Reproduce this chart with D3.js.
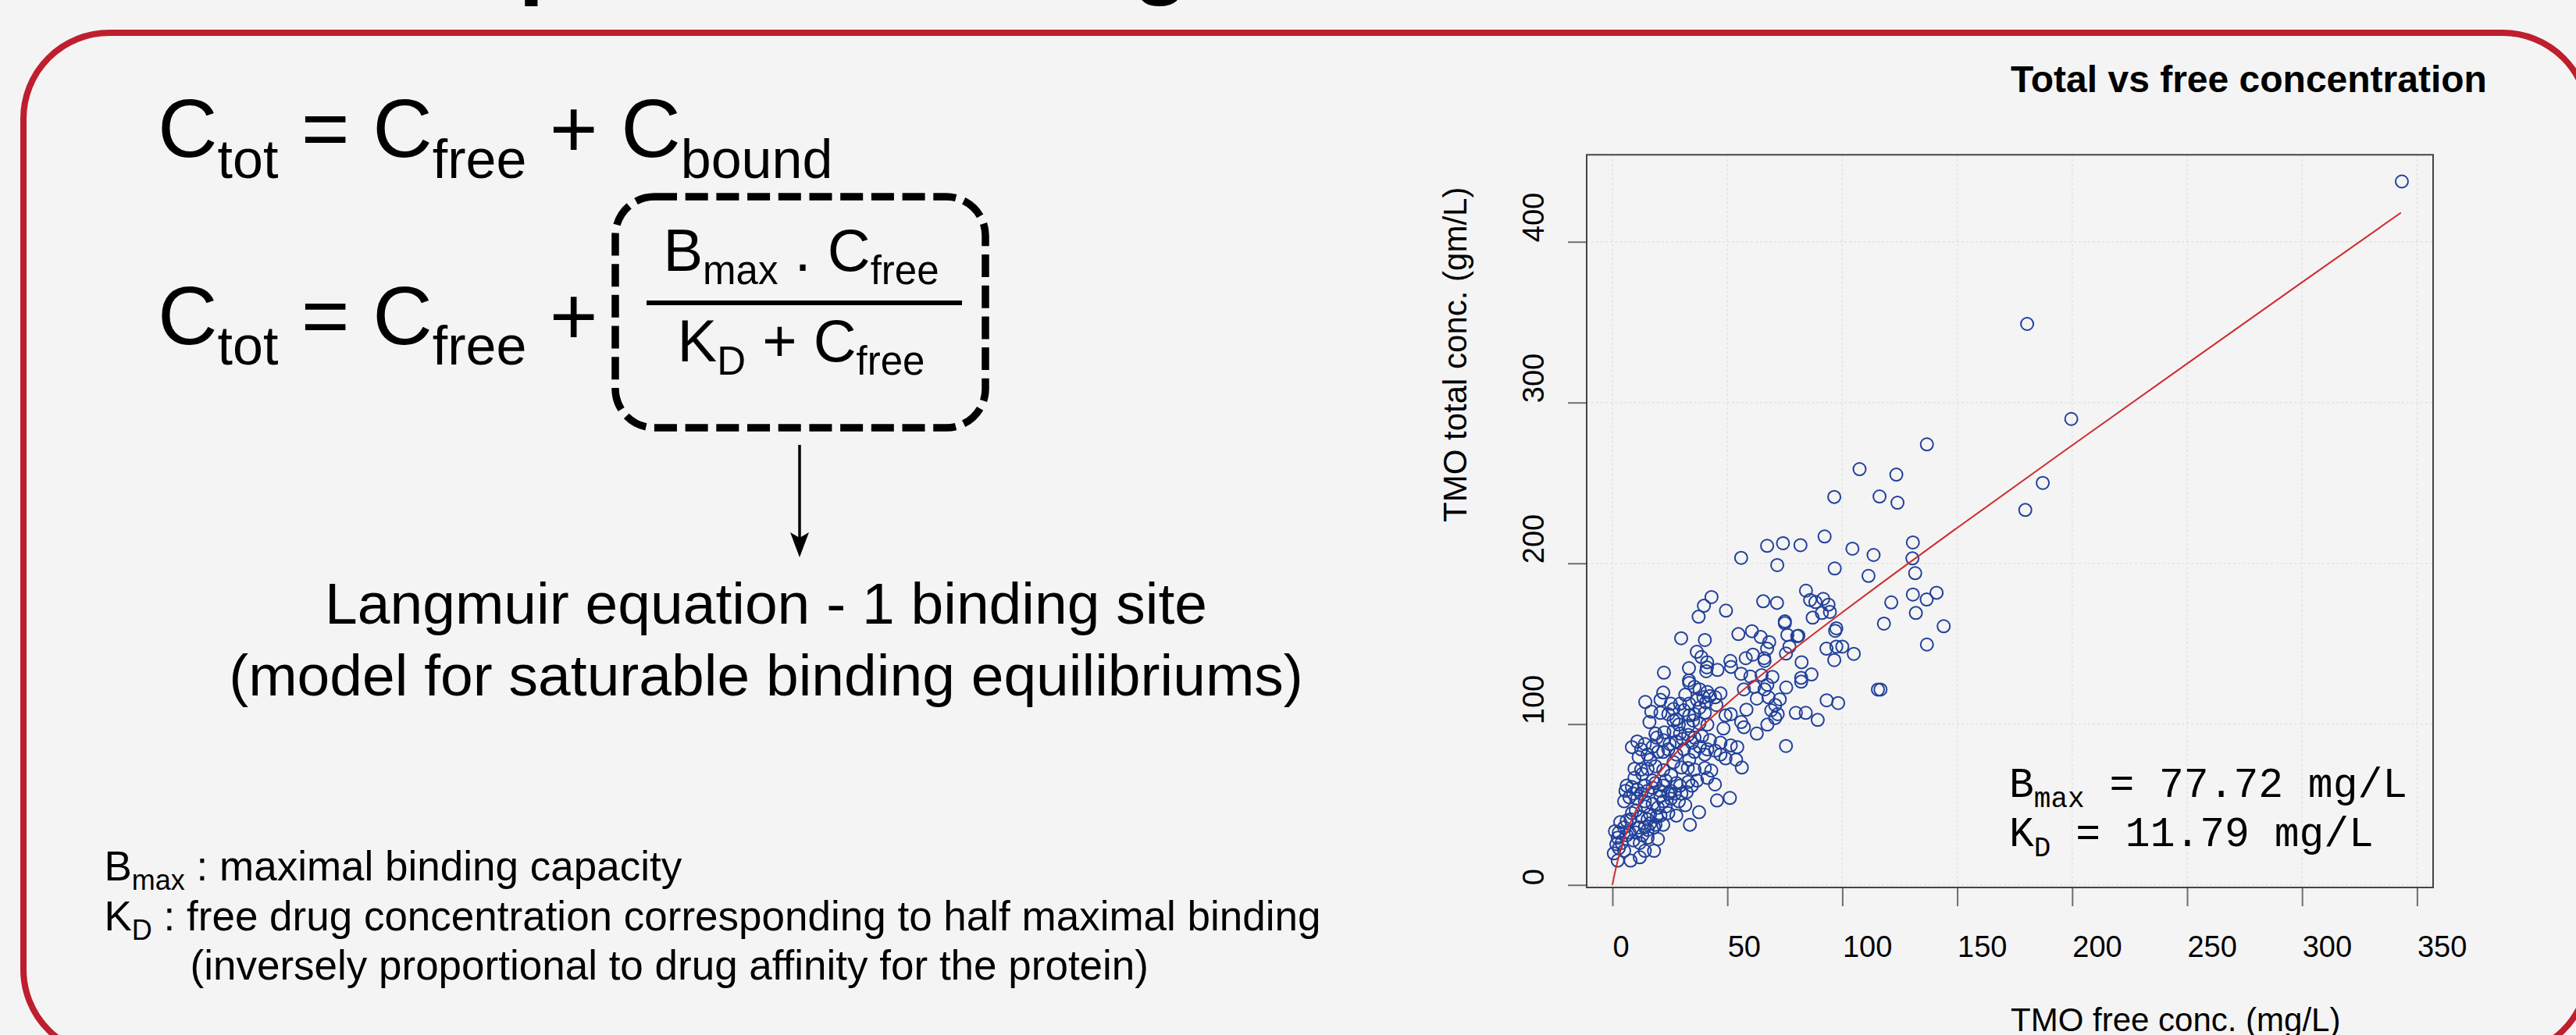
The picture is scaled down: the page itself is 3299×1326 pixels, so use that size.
<!DOCTYPE html>
<html>
<head>
<meta charset="utf-8">
<script src="https://cdn.jsdelivr.net/npm/d3@7"></script>
<style>
  body { margin: 0; background: #f4f4f4; }
  svg { display: block; }
  text { font-family: "Liberation Sans", Arial, sans-serif; fill: #000; white-space: pre; }
</style>
</head>
<body>
<script>
const WIDTH = 3299
const HEIGHT = 1326

// scatter: free conc. (mg/L) and total conc. (gm/L)
const freeOuter = [343.4,180.4,199.6,136.8,107.5,123.5,96.5,116.2,124.0,187.2,179.6,92.3,81.8,104.4,113.6,130.7,130.5,96.7,111.4,131.7,84.2,86.0,88.3,91.7,94.0,91.1,94.6,87.1,130.7,141.0,136.7,121.3,132.0,118.1,144.1,136.8,97.4,96.9,80.9,93.1,97.4,100.0,105.0,96.5,82.3,86.6,82.1,82.1,115.5,116.6,93.2,98.2,84.1,89.3,79.8]
const totalOuter = [437.5,348.9,289.8,274.0,258.6,255.2,241.3,241.6,237.7,250.0,233.2,216.7,211.3,209.1,205.2,213.0,203.1,196.8,192.2,193.9,183.0,177.2,175.9,177.9,174.3,169.1,169.8,166.2,180.6,181.7,177.5,175.7,169.1,162.5,160.9,149.5,159.6,158.0,155.0,146.9,148.2,148.2,143.7,139.8,138.5,130.9,128.8,126.4,121.5,121.5,114.8,113.1,107.0,102.6,107.0]

const freeMid = [56.0,67.3,74.2,71.7,43.1,39.8,37.5,49.4,65.6,71.6,75.0,75.0,29.9,40.2,54.8,60.7,64.5,68.2,67.3,76.1,80.4,77.0,75.5,36.7,38.7,41.2,33.3,41.1,45.7,51.3,51.6,58.0,61.1,66.0,66.2,22.4,56.0,60.0,64.9,69.6,33.3,40.8,75.6,72.8,75.5]
const totalMid = [203.4,210.9,212.5,198.9,179.0,173.6,166.8,170.6,176.4,175.4,163.9,162.8,153.4,152.3,156.0,157.8,154.2,151.0,146.9,155.5,154.7,148.2,143.9,145.0,141.7,138.5,134.8,135.3,133.7,139.3,135.6,141.0,143.2,141.0,139.3,132.0,131.3,129.6,130.5,129.4,127.2,132.9,122.8,115.4,86.4]

const freeUpper = [33.4,35.7,37.9,41.3,47.0,39.6,36.8,42.4,22.1,20.9,14.3,25.4,16.9,16.1,31.1,33.4,27.8,26.6,35.7,40.2,45.2,51.5,49.2,58.3,56.0,57.2,48.3,62.8,67.4,57.2,61.7,66.2,67.9,62.8,70.8,69.1,71.9,70.8,67.4,33.0,28.9,35.1,24.3,20.9,26.6,29.4,33.4,37.9,40.7,44.7,31.7]
const totalUpper = [125.6,123.2,121.6,120.0,119.1,116.7,115.1,117.5,119.6,115.1,113.8,112.7,107.8,101.3,108.6,105.4,103.0,102.2,106.2,107.0,111.9,106.2,105.4,109.0,101.3,98.1,97.3,94.1,99.7,121.6,123.2,121.6,116.7,115.9,111.9,108.6,106.2,103.8,124.5,98.9,99.7,102.2,106.2,107.0,109.4,112.7,112.7,110.2,113.5,116.7,118.3]

const freeCore = [18.7,19.3,22.6,26.6,29.4,33.0,35.7,39.0,42.4,37.9,41.3,47.0,51.5,54.3,47.0,49.2,53.8,56.3,8.5,12.5,15.3,11.4,16.4,22.1,24.3,27.8,31.1,35.7,40.2,33.4,26.6,30.0,32.8,35.7,40.2,43.0,9.6,12.5,15.3,18.7,22.1,17.5,19.8,14.1,10.8,27.8,30.6,34.6,22.1,24.9,37.9,41.3,44.7]
const totalCore = [94.1,91.6,94.9,95.7,94.1,93.3,91.6,92.4,90.0,100.5,99.7,88.4,86.8,85.7,81.1,78.7,77.9,73.0,85.7,84.3,81.1,79.5,77.9,82.7,84.3,81.1,84.3,82.7,81.1,77.9,76.3,73.0,72.7,71.7,72.7,71.1,72.2,71.7,72.2,73.8,71.4,86.0,82.7,87.6,89.2,89.2,90.8,88.4,90.0,87.6,86.0,84.3,83.5]

const freeLow = [44.6,45.5,51.1,37.7,33.7,6.2,8.5,10.8,14.1,17.5,20.9,25.4,29.4,33.0,36.8,41.3,34.6,7.4,10.8,14.1,17.5,20.9,25.4,28.9,31.7,27.8,24.3,20.9,22.1,18.7,15.3,12.5,8.5,7.9,11.4,15.3,18.1,2.8,2.3,6.2,4.0,2.8,5.1,0.6,2.3,7.9,11.9,14.1,18.1,15.3,11.9,10.2,19.8,5.1,5.7,9.6,13.0,17.5,23.2,25.5,27.2,30.0,32.3,1.7,1.1,10.2,14.1,23.2,19.8,16.4,3.4,6.2,14.1,5.1,7.4,9.1,13.0,16.4,19.2,22.1,24.3,27.8,22.1,18.7,15.3,12.5,9.1]
const totalLow = [62.5,52.5,54.1,45.2,37.4,61.7,60.9,59.3,61.7,60.4,58.5,58.5,61.7,64.1,64.9,66.6,61.7,54.4,53.6,52.0,50.4,55.2,53.6,52.0,49.6,43.1,44.7,43.1,37.4,37.4,40.7,42.3,44.7,40.7,35.8,34.2,35.8,32.6,29.3,30.9,26.1,22.9,21.2,19.6,15.1,15.1,17.2,21.2,21.2,29.3,26.1,32.6,28.5,52.0,58.5,66.6,69.0,64.9,64.9,68.2,56.8,56.8,57.7,25.3,33.4,46.3,48.8,48.8,48.0,38.2,39.0,39.9,35.8,35.8,32.6,27.7,30.9,43.9,42.3,52.0,56.8,63.3,61.7,63.3,58.5,56.8,56.8]

// fitted curve
const fitFree = [0,0.5,1,2,3,5,7.5,10,15,20,30,40,50,75,100,150,200,250,300,343]
const fitTotal = [0,3.7,7.1,13.3,18.8,28.1,37.7,45.7,58.5,68.9,85.8,100.0,112.9,142.2,169.5,222.1,273.4,324.2,374.8,418.1]

const xTicks = [0,50,100,150,200,250,300,350]
const yTicks = [0,100,200,300,400]

const freeConc = [].concat(freeOuter, freeMid, freeUpper, freeCore, freeLow)
const totalConc = [].concat(totalOuter, totalMid, totalUpper, totalCore, totalLow)

var svg = d3.select("body").append("svg")
    .attr("width", WIDTH)
    .attr("height", HEIGHT)

svg.append("rect")
    .attr("width", WIDTH)
    .attr("height", HEIGHT)
    .attr("fill", "#f4f4f4")

// slide title, only its descenders show above the frame
svg.append("text")
    .attr("x", 631).attr("y", -17.5)
    .attr("text-anchor", "end")
    .attr("font-size", 118).attr("font-weight", "bold")
    .text("Nonlinear")
svg.append("text")
    .attr("x", 664).attr("y", -17.5)
    .attr("font-size", 118).attr("font-weight", "bold")
    .text("protein binding")

svg.append("rect")
    .attr("x", 30).attr("y", 42)
    .attr("width", 3285).attr("height", 1310)
    .attr("rx", 110)
    .attr("fill", "none")
    .attr("stroke", "#be1e2d")
    .attr("stroke-width", 8)

var richText = function(parent, x, y, size, subSize, shift, parts, anchor){
    var t = parent.append("text")
        .attr("x", x).attr("y", y)
        .attr("font-size", size)
        .attr("text-anchor", anchor || "start")
    var down = false
    parts.forEach(function(p){
        var s = t.append("tspan").text(p[0])
        if (p[1]) {
            s.attr("font-size", subSize).attr("dy", down ? 0 : shift)
            down = true
        } else {
            s.attr("dy", down ? -shift : 0)
            down = false
        }
    })
    return t
}

var createEquations = function(){
    var g = svg.append("g")
    richText(g, 202, 201, 106, 70, 26.5,
        [["C"],["tot",1],[" = C"],["free",1],[" + C"],["bound",1]])
    richText(g, 202, 440.5, 106, 70, 26.5,
        [["C"],["tot",1],[" = C"],["free",1],[" +"]])

    g.append("rect")
        .attr("x", 788).attr("y", 252)
        .attr("width", 474).attr("height", 296)
        .attr("rx", 50)
        .attr("fill", "none")
        .attr("stroke", "#000")
        .attr("stroke-width", 9.5)
        .attr("stroke-dasharray", "29,10.7")

    richText(g, 1026, 347.3, 76, 51, 16.7,
        [["B"],["max",1],[" . C"],["free",1]], "middle")
    g.append("line")
        .attr("x1", 828).attr("x2", 1232)
        .attr("y1", 388).attr("y2", 388)
        .attr("stroke", "#000").attr("stroke-width", 6)
    richText(g, 1026, 462.7, 76, 51, 17.5,
        [["K"],["D",1],[" + C"],["free",1]], "middle")

    g.append("line")
        .attr("x1", 1024).attr("x2", 1024)
        .attr("y1", 570).attr("y2", 692)
        .attr("stroke", "#000").attr("stroke-width", 3.5)
    g.append("polygon")
        .attr("points", "1024,714 1012,682 1024,689 1036,682")
        .attr("fill", "#000")

    g.append("text").attr("x", 981).attr("y", 799)
        .attr("text-anchor", "middle").attr("font-size", 75)
        .text("Langmuir equation - 1 binding site")
    g.append("text").attr("x", 981).attr("y", 891)
        .attr("text-anchor", "middle").attr("font-size", 75)
        .text("(model for saturable binding equilibriums)")

    richText(g, 133.5, 1128.3, 53, 36, 12,
        [["B"],["max",1],[" : maximal binding capacity"]])
    richText(g, 133.5, 1191.7, 53, 36, 12,
        [["K"],["D",1],[" : free drug concentration corresponding to half maximal binding"]])
    g.append("text").attr("x", 243.5).attr("y", 1255)
        .attr("font-size", 53)
        .text("(inversely proportional to drug affinity for the protein)")
}

var createScatter = function(){
    var x = d3.scaleLinear().domain([-11.2, 357]).range([2032, 3116])
    var y = d3.scaleLinear().domain([-1.6, 454.1]).range([1137, 198.3])
    var g = svg.append("g")

    g.append("g").selectAll("line.vgrid").data(xTicks).join("line")
        .attr("x1", d => x(d)).attr("x2", d => x(d))
        .attr("y1", y.range()[1]).attr("y2", y.range()[0])
        .attr("stroke", "#e2e2e2").attr("stroke-width", 1.5)
        .attr("stroke-dasharray", "3,3")
    g.append("g").selectAll("line.hgrid").data(yTicks).join("line")
        .attr("x1", x.range()[0]).attr("x2", x.range()[1])
        .attr("y1", d => y(d)).attr("y2", d => y(d))
        .attr("stroke", "#e2e2e2").attr("stroke-width", 1.5)
        .attr("stroke-dasharray", "3,3")

    var xAxis = g.append("g")
        .attr("transform", "translate(0," + y.range()[0] + ")")
        .call(d3.axisBottom(x).tickValues(xTicks).tickSize(24).tickSizeOuter(0).tickPadding(38))
    xAxis.select(".domain").remove()
    xAxis.selectAll(".tick line").attr("stroke", "#6e6e6e").attr("stroke-width", 2)
    xAxis.selectAll(".tick text")
        .attr("text-anchor", "start")
        .attr("font-family", "Liberation Sans, Arial, sans-serif")
        .attr("font-size", 38).attr("fill", "#000")

    var yAxis = g.append("g")
        .attr("transform", "translate(" + x.range()[0] + ",0)")
        .call(d3.axisLeft(y).tickValues(yTicks).tickSize(24).tickSizeOuter(0))
    yAxis.select(".domain").remove()
    yAxis.selectAll(".tick line").attr("stroke", "#6e6e6e").attr("stroke-width", 2)
    yAxis.selectAll(".tick text")
        .attr("transform", "rotate(-90)")
        .attr("x", 0).attr("y", -55).attr("dy", 0)
        .attr("text-anchor", "start")
        .attr("font-family", "Liberation Sans, Arial, sans-serif")
        .attr("font-size", 38).attr("fill", "#000")

    g.append("rect")
        .attr("x", x.range()[0]).attr("y", y.range()[1])
        .attr("width", x.range()[1] - x.range()[0])
        .attr("height", y.range()[0] - y.range()[1])
        .attr("fill", "none")
        .attr("stroke", "#444").attr("stroke-width", 2)

    g.append("g").selectAll("circle").data(freeConc).join("circle")
        .attr("cx", d => x(d))
        .attr("cy", (d, i) => y(totalConc[i]))
        .attr("r", 8)
        .attr("fill", "none")
        .attr("stroke", "#21409a")
        .attr("stroke-width", 2)

    var line = d3.line()
        .x((d, i) => x(fitFree[i]))
        .y(d => y(d))
        .curve(d3.curveMonotoneX)
    g.append("path")
        .attr("d", line(fitTotal))
        .attr("fill", "none")
        .attr("stroke", "#d12b2b")
        .attr("stroke-width", 2)

    g.append("text")
        .attr("x", 2575).attr("y", 118)
        .attr("font-size", 48).attr("font-weight", "bold")
        .text("Total vs free concentration")
    g.append("text")
        .attr("x", 2575).attr("y", 1321)
        .attr("font-size", 42)
        .text("TMO free conc. (mg/L)")
    g.append("text")
        .attr("transform", "translate(1878,669) rotate(-90)")
        .attr("font-size", 42)
        .text("TMO total conc. (gm/L)")

    var mono = g.append("g")
    richText(mono, 2573, 1021, 53, 36, 12.5, [["B"],["max",1],[" = 77.72 mg/L"]])
        .style("font-family", "Liberation Mono, monospace")
    richText(mono, 2573, 1084, 53, 36, 12.5, [["K"],["D",1],[" = 11.79 mg/L"]])
        .style("font-family", "Liberation Mono, monospace")
}

createEquations()
createScatter()
</script>
</body>
</html>
